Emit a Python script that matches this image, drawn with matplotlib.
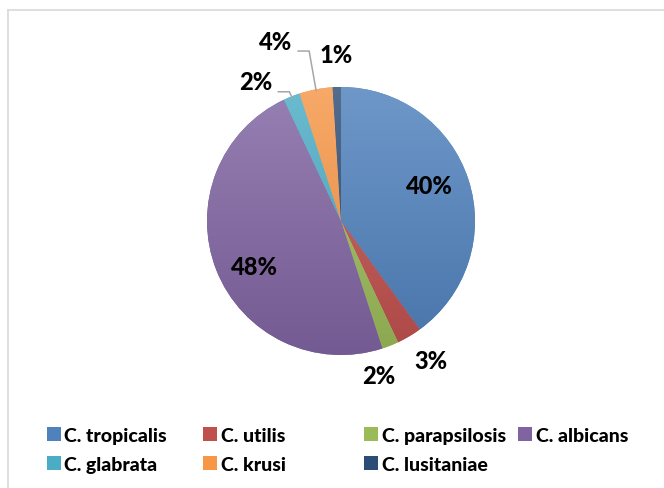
import numpy as np
import matplotlib
matplotlib.use("Agg")
import matplotlib.pyplot as plt
from matplotlib.colors import to_rgb, LinearSegmentedColormap
from matplotlib.lines import Line2D
from matplotlib.patches import Patch

species = ["C. tropicalis", "C. utilis", "C. parapsilosis", "C. albicans",
           "C. glabrata", "C. krusi", "C. lusitaniae"]
values = [40, 3, 2, 48, 2, 4, 1]
labels = ["40%", "3%", "2%", "48%", "2%", "4%", "1%"]
colors = ["#4F81BD", "#C0504D", "#9BBB59", "#8064A2", "#4BACC6", "#F79646", "#2C4D75"]

# label placement: (radius factor, angle offset deg, leader line?)
label_pos = [(0.71, 4, False), (1.24, 2, False), (1.19, -8, False), (0.73, 6, False),
             (1.22, 10, True), (1.43, 9.3, True), (1.24, 0, False)]

plt.rcParams['font.family'] = ['Lato', 'DejaVu Sans']
W, H = 664, 489
fig = plt.figure(figsize=(W / 100, H / 100), dpi=100)

cx, cy, r = 341, 222, 134
ax = fig.add_axes([(cx - r) / W, (H - cy - r) / H, 2 * r / W, 2 * r / H])
ax.axis('off')

wedges, _ = ax.pie(values, colors=colors, startangle=90, counterclock=False,
                   radius=1, wedgeprops=dict(linewidth=0))

# gradient shading (lighter on top, darker at bottom)
grad = np.linspace(0, 1, 256).reshape(-1, 1)
for w, c in zip(wedges, colors):
    base = np.array(to_rgb(c))
    top = base + (1 - base) * 0.18
    bot = base * 0.90
    cmap = LinearSegmentedColormap.from_list("g", [bot, top])
    im = ax.imshow(grad, cmap=cmap, extent=(-1, 1, -1, 1), origin='lower',
                   aspect='auto', zorder=2)
    im.set_clip_path(w)

ax.set_xlim(-1, 1)
ax.set_ylim(-1, 1)
ax.set_aspect('equal')

px = 1.0 / r  # one pixel in data units
# labels
for w, lab, (rf, off, leader) in zip(wedges, labels, label_pos):
    mid = np.deg2rad((w.theta1 + w.theta2) / 2 + off)
    tx, ty = rf * np.cos(mid), rf * np.sin(mid)
    ax.text(tx, ty, lab, ha='center', va='center', fontsize=17,
            fontweight='black', color='black', zorder=5)
    if leader:
        emid = np.deg2rad((w.theta1 + w.theta2) / 2)
        ex, ey = 0.99 * np.cos(emid), 0.99 * np.sin(emid)
        x0, y0 = tx + 23 * px, ty - 10 * px
        x1 = x0 + 11 * px
        ax.plot([x0, x1, ex], [y0, y0, ey], color='#A6A6A6', lw=1.1, zorder=4,
                clip_on=False, solid_joinstyle='miter')

# legend: one column per legend to get equal column spacing
col_x = [47, 203, 364, 518]
for ci in range(4):
    handles = []
    for k in (ci, ci + 4):
        if k < len(species):
            handles.append(Patch(facecolor=colors[k], edgecolor='none', label=species[k]))
    fig.legend(handles=handles, loc='upper left',
               bbox_to_anchor=(col_x[ci] / W, 1 - 428 / H), frameon=False,
               prop=dict(weight='black', size=14), handlelength=0.7, handleheight=0.7,
               handletextpad=0.2, labelspacing=0.62, borderpad=0, borderaxespad=0)

# chart area border (cropped)
fig.add_artist(Line2D([8 / W, 1], [1 - 11 / H, 1 - 11 / H], color='#D9D9D9', lw=1.2,
                      transform=fig.transFigure))
fig.add_artist(Line2D([8 / W, 8 / W], [0, 1 - 11 / H], color='#D9D9D9', lw=1.2,
                      transform=fig.transFigure))

fig.savefig("out.png", dpi=100)
